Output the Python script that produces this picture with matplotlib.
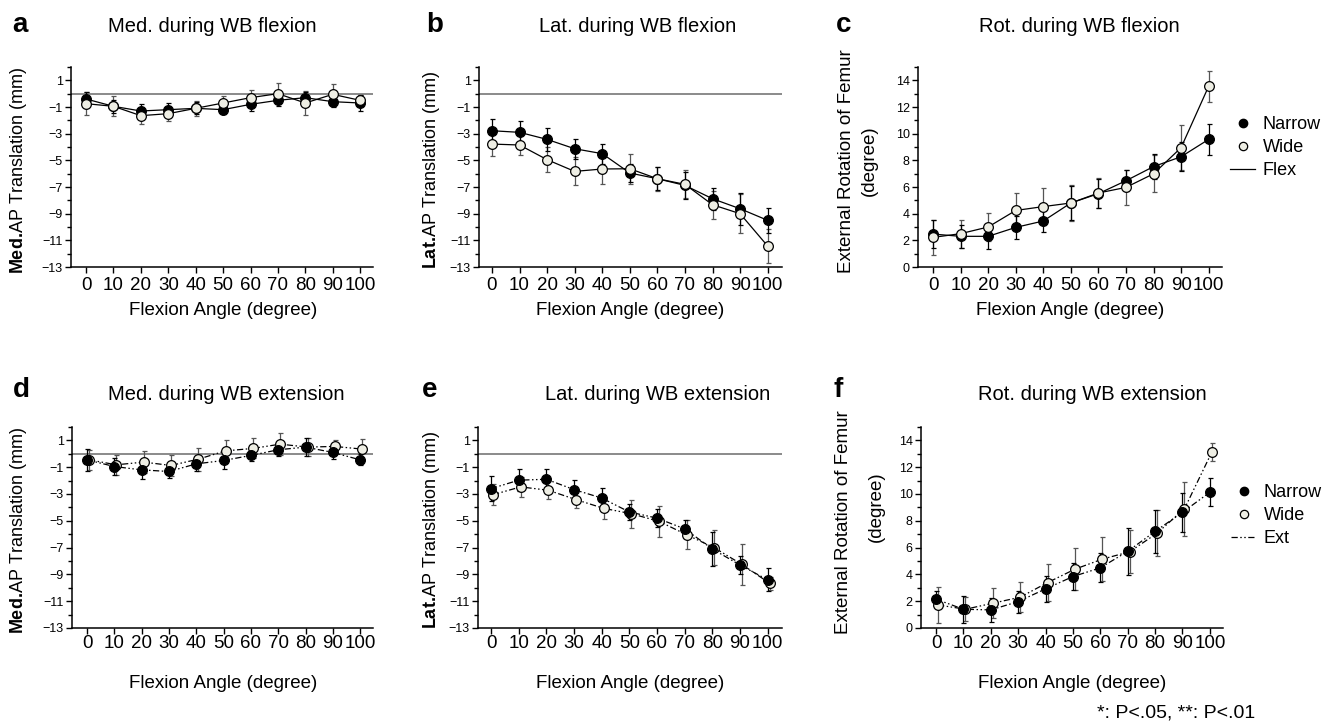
import matplotlib
matplotlib.use('Agg')
import matplotlib.pyplot as plt
from matplotlib.lines import Line2D
from matplotlib import font_manager
import matplotlib.transforms as mtransforms
from matplotlib.ticker import MultipleLocator

# ---------------- data ----------------
angles = [0, 10, 20, 30, 40, 50, 60, 70, 80, 90, 100]
angle_labels = ['0', '10', '20', '30', '40', '50', '60', '70', '80', '90', '100']

med_flex_narrow = [-0.4, -0.95, -1.3, -1.2, -1.1, -1.2, -0.8, -0.5, -0.3, -0.6, -0.7]
med_flex_narrow_sd = [0.5, 0.5, 0.5, 0.5, 0.45, 0.35, 0.5, 0.45, 0.45, 0.4, 0.6]
med_flex_wide = [-0.75, -0.95, -1.65, -1.5, -1.1, -0.7, -0.3, 0.0, -0.7, -0.05, -0.5]
med_flex_wide_sd = [0.85, 0.75, 0.65, 0.57, 0.55, 0.5, 0.6, 0.8, 0.87, 0.8, 0.4]

lat_flex_narrow = [-2.78, -2.9, -3.43, -4.13, -4.5, -5.95, -6.38, -6.88, -7.88, -8.63, -9.5]
lat_flex_narrow_sd = [0.9, 0.83, 0.85, 0.75, 0.75, 0.68, 0.85, 1.0, 0.83, 1.2, 0.93]
lat_flex_wide = [-3.78, -3.85, -4.95, -5.83, -5.65, -5.63, -6.38, -6.8, -8.33, -9.0, -11.43]
lat_flex_wide_sd = [0.93, 0.73, 0.93, 1.05, 1.1, 1.12, 0.9, 1.05, 1.05, 1.45, 1.27]

rot_flex_narrow = [2.47, 2.3, 2.3, 2.97, 3.45, 4.8, 5.5, 6.47, 7.53, 8.27, 9.57]
rot_flex_narrow_sd = [1.07, 0.88, 0.95, 0.85, 0.85, 1.3, 1.1, 0.8, 0.94, 1.07, 1.17]
rot_flex_wide = [2.22, 2.5, 3.0, 4.24, 4.53, 4.8, 5.55, 5.97, 6.99, 8.95, 13.55]
rot_flex_wide_sd = [1.3, 1.05, 1.08, 1.34, 1.37, 1.34, 1.1, 1.3, 1.4, 1.7, 1.16]

med_ext_narrow = [-0.45, -0.95, -1.2, -1.32, -0.75, -0.5, -0.12, 0.3, 0.5, 0.1, -0.45]
med_ext_narrow_sd = [0.8, 0.65, 0.7, 0.5, 0.5, 0.6, 0.45, 0.5, 0.7, 0.5, 0.4]
med_ext_wide = [-0.45, -0.82, -0.62, -0.87, -0.4, 0.22, 0.4, 0.72, 0.5, 0.55, 0.35]
med_ext_wide_sd = [0.75, 0.75, 0.8, 0.8, 0.87, 0.78, 0.75, 0.82, 0.67, 0.5, 0.77]

lat_ext_narrow = [-2.6, -1.97, -1.9, -2.67, -3.3, -4.34, -4.8, -5.6, -7.1, -8.3, -9.4]
lat_ext_narrow_sd = [0.93, 0.8, 0.8, 0.7, 0.78, 0.6, 0.65, 0.67, 1.25, 0.65, 0.87]
lat_ext_wide = [-3.05, -2.47, -2.72, -3.42, -4.07, -4.47, -5.04, -6.04, -7.01, -8.26, -9.66]
lat_ext_wide_sd = [0.8, 0.75, 0.67, 0.65, 0.82, 1.05, 1.15, 1.1, 1.3, 1.5, 0.5]

rot_ext_narrow = [2.15, 1.4, 1.35, 1.97, 2.92, 3.84, 4.49, 5.72, 7.21, 8.63, 10.13]
rot_ext_narrow_sd = [0.6, 1.0, 0.9, 0.82, 0.95, 1.0, 1.07, 1.74, 1.6, 1.47, 1.05]
rot_ext_wide = [1.72, 1.4, 1.85, 2.3, 3.39, 4.39, 5.14, 5.69, 7.08, 8.9, 13.13]
rot_ext_wide_sd = [1.35, 0.9, 1.1, 1.1, 1.4, 1.57, 1.62, 1.6, 1.74, 2.0, 0.65]

trans_ticks = [1, -1, -3, -5, -7, -9, -11, -13]
rot_ticks = [0, 2, 4, 6, 8, 10, 12, 14]

# ---------------- fonts ----------------
MAIN = 'Liberation Sans'
try:
    font_manager.findfont('Liberation Sans Narrow', fallback_to_default=False)
    NARROW = 'Liberation Sans Narrow'
except Exception:
    NARROW = 'Liberation Sans'

plt.rcParams['font.family'] = [MAIN, 'DejaVu Sans']
plt.rcParams['mathtext.fontset'] = 'custom'
plt.rcParams['mathtext.rm'] = MAIN
plt.rcParams['mathtext.bf'] = MAIN + ':bold'
plt.rcParams['axes.unicode_minus'] = True

W, H = 1338, 726
fig = plt.figure(figsize=(W / 100, H / 100), dpi=100)


def fx(x):
    return x / W


def fy(y):
    return 1 - y / H


def make_ax(l, t, r, b):
    return fig.add_axes([fx(l), fy(b), (r - l) / W, (b - t) / H])


WIDE_FACE = '#eeeee4'
SOLID = '-'
EXT_DASH = (0, (5, 2, 1.2, 2, 1.2, 2))


def draw_panel(ax, nar, nar_sd, wid, wid_sd, ls, xlim, ylim, yticks, zero_line,
               narrow_on_top, wide_shift_px=0.0):
    ax.set_xlim(*xlim)
    ax.set_ylim(*ylim)
    for s in ['top', 'right']:
        ax.spines[s].set_visible(False)
    for s in ['left', 'bottom']:
        ax.spines[s].set_linewidth(1.1)
    if zero_line:
        ax.axhline(0, color='#777777', lw=1.2, zorder=1)
    shift = mtransforms.offset_copy(ax.transData, fig=fig, x=wide_shift_px, y=0, units='dots')
    zn, zw = (4, 3) if narrow_on_top else (3, 4)
    ax.errorbar(angles, wid, yerr=wid_sd, fmt='none', ecolor='#555555', elinewidth=0.9,
                capsize=1.8, capthick=0.9, zorder=2, transform=shift)
    ax.errorbar(angles, nar, yerr=nar_sd, fmt='none', ecolor='black', elinewidth=0.9,
                capsize=1.8, capthick=0.9, zorder=2)
    ax.plot(angles, wid, color='black', lw=0.9, linestyle=ls, zorder=2.5, transform=shift)
    ax.plot(angles, nar, color='black', lw=0.9, linestyle=ls, zorder=2.5)
    ax.plot(angles, wid, ls='none', marker='o', ms=7, mfc=WIDE_FACE, mec='black', mew=0.9,
            zorder=zw, transform=shift)
    ax.plot(angles, nar, ls='none', marker='o', ms=7, mfc='black', mec='black', mew=0.9,
            zorder=zn)
    ax.set_xticks(angles)
    ax.set_xticklabels(angle_labels, fontsize=13.5, family=[MAIN])
    ax.set_yticks(yticks)
    ax.set_yticklabels([str(v).replace('-', '\u2212') for v in yticks], fontsize=9,
                       family=[NARROW, MAIN])
    ax.yaxis.set_minor_locator(MultipleLocator(1))
    ax.tick_params(axis='y', which='major', length=4, width=1, pad=2)
    ax.tick_params(axis='y', which='minor', length=3, width=1)
    ax.tick_params(axis='x', which='major', length=4, width=1, pad=3)


xl_ad = (-5.5, 104.7)
xl_be = (-4.7, 105.2)
xl_c = (-5.45, 104.85)
xl_f = (-5.5, 104.8)

ax_a = make_ax(71, 67, 373, 267)
draw_panel(ax_a, med_flex_narrow, med_flex_narrow_sd, med_flex_wide, med_flex_wide_sd,
           SOLID, xl_ad, (-13, 2), trans_ticks, True, False)
ax_b = make_ax(479, 67, 782, 267)
draw_panel(ax_b, lat_flex_narrow, lat_flex_narrow_sd, lat_flex_wide, lat_flex_wide_sd,
           SOLID, xl_be, (-13, 2), trans_ticks, True, False)
ax_c = make_ax(918, 67, 1222, 267)
draw_panel(ax_c, rot_flex_narrow, rot_flex_narrow_sd, rot_flex_wide, rot_flex_wide_sd,
           SOLID, xl_c, (0, 15), rot_ticks, False, False)

ax_d = make_ax(72, 427, 373, 628)
draw_panel(ax_d, med_ext_narrow, med_ext_narrow_sd, med_ext_wide, med_ext_wide_sd,
           EXT_DASH, xl_ad, (-13, 2), trans_ticks, True, True, 2)
ax_e = make_ax(478, 427, 782, 628)
draw_panel(ax_e, lat_ext_narrow, lat_ext_narrow_sd, lat_ext_wide, lat_ext_wide_sd,
           EXT_DASH, xl_be, (-13, 2), trans_ticks, True, True, 2)
ax_f = make_ax(921, 427, 1223, 628)
draw_panel(ax_f, rot_ext_narrow, rot_ext_narrow_sd, rot_ext_wide, rot_ext_wide_sd,
           EXT_DASH, xl_f, (0, 15), rot_ticks, False, True, 2)
for ax in (ax_d, ax_e, ax_f):
    ax.tick_params(axis='x', pad=1)

# ---------------- texts ----------------
letters = [('a', 20, 25), ('b', 435, 25), ('c', 844, 25),
           ('d', 21, 390), ('e', 430, 390), ('f', 838, 390)]
for t, x, y in letters:
    fig.text(fx(x), fy(y), t, fontsize=20, fontweight='bold', ha='center', va='center')

titles = [('Med. during WB flexion', 212, 26), ('Lat. during WB flexion', 638, 26),
          ('Rot. during WB flexion', 1079, 26), ('Med. during WB extension', 226, 395),
          ('Lat. during WB extension', 658, 395), ('Rot. during WB extension', 1092, 395)]
for t, x, y in titles:
    fig.text(fx(x), fy(y), t, fontsize=14.5, ha='center', va='center')

xlab = 'Flexion Angle (degree)'
for x, y in [(223, 311), (630, 311), (1070, 311), (223, 684), (630, 684), (1072, 684)]:
    fig.text(fx(x), fy(y), xlab, fontsize=13.5, ha='center', va='center')

ylabs = [(r'$\mathbf{Med.}\!$AP Translation (mm)', 19, 170),
         (r'$\mathbf{Lat.}\!$AP Translation (mm)', 432, 170),
         (r'$\mathbf{Med.}\!$AP Translation (mm)', 19, 530),
         (r'$\mathbf{Lat.}\!$AP Translation (mm)', 432, 530)]
for t, x, y in ylabs:
    fig.text(fx(x), fy(y), t, fontsize=13, rotation=90, ha='center', va='center')

rot_lab = 'External Rotation of Femur\n(degree)'
fig.text(fx(858), fy(161), rot_lab, fontsize=13.5, rotation=90, ha='center', va='center',
         multialignment='center', linespacing=1.5)
fig.text(fx(843), fy(522), 'External Rotation of Femur', fontsize=13.5, rotation=90,
         ha='center', va='center')
fig.text(fx(876), fy(507), '(degree)', fontsize=13.5, rotation=90, ha='center', va='center')

# ---------------- legends ----------------
def legend_at(line_style, label3, x, y):
    h = [Line2D([], [], ls='none', marker='o', ms=6, mfc='black', mec='black'),
         Line2D([], [], ls='none', marker='o', ms=6, mfc=WIDE_FACE, mec='black', mew=0.9),
         Line2D([], [], color='black', lw=0.9, linestyle=line_style)]
    fig.legend(h, ['Narrow', 'Wide', label3], loc='upper left',
               bbox_to_anchor=(fx(x), fy(y)), frameon=False, fontsize=13,
               handlelength=1.4, handletextpad=0.4, labelspacing=0.33,
               borderpad=0, borderaxespad=0)


legend_at(SOLID, 'Flex', 1230, 116)
legend_at(EXT_DASH, 'Ext', 1231, 484)

fig.text(fx(1176), fy(713), '*: P<.05, **: P<.01', fontsize=14, ha='center', va='center')

fig.savefig('out.png', dpi=100)
